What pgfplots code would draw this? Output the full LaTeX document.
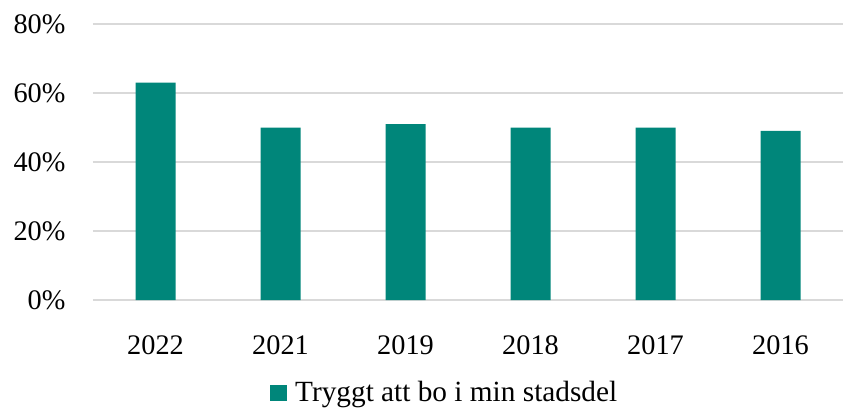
\documentclass[border=0pt]{standalone}
\usepackage{fontspec}
\setmainfont{Liberation Serif}
\usepackage{pgfplots}
\pgfplotsset{compat=1.18}
\definecolor{barteal}{RGB}{0,134,122}
\definecolor{gridgray}{RGB}{217,217,217}
\begin{document}
\fontsize{28}{34}\selectfont
\begin{tikzpicture}
\path[use as bounding box] (-93pt,-108pt) rectangle (750pt,300pt);
\begin{axis}[
  at={(0,0)}, anchor=south west,
  scale only axis, width=750pt, height=276pt,
  xmin=-0.5, xmax=5.5, ymin=0, ymax=80,
  ytick={0,20,40,60,80},
  xtick=data,
  xticklabels={2022,2021,2019,2018,2017,2016},
  yticklabel={\pgfmathprintnumber{\tick}\%},
  /pgf/number format/assume math mode=true,
  axis line style={draw=none},
  major tick style={draw=none},
  ymajorgrids, grid style={gridgray, line width=1.3pt},
  xticklabel style={yshift=-22pt, font=\fontsize{28.3}{34}\selectfont},
  yticklabel style={xshift=-18pt, font=\fontsize{28.3}{34}\selectfont},
  ybar, bar width=40pt,
  legend style={at={(0.2320,-0.3375)}, anchor=west, draw=none, fill=none, font=\fontsize{29.3}{35}\selectfont},
  legend image code/.code={\fill[barteal] (0pt,-8pt) rectangle (16.5pt,8.5pt); \path (23pt,0pt);},
]
\addplot[fill=barteal, draw=none] coordinates {(0,63) (1,50) (2,51) (3,50) (4,50) (5,49)};
\addlegendentry{Tryggt att bo i min stadsdel}
\end{axis}
\end{tikzpicture}
\end{document}
